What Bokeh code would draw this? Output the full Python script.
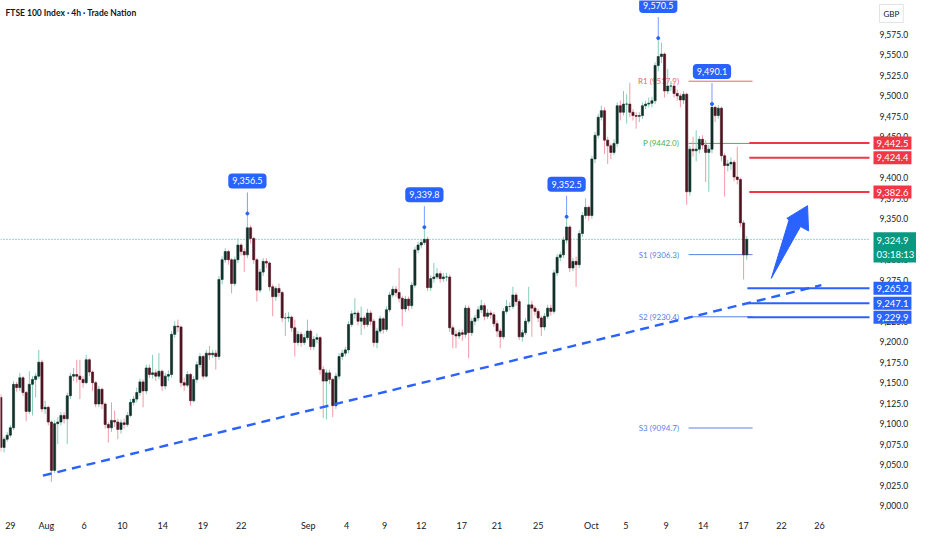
import numpy as np
from bokeh.plotting import figure
from bokeh.models import (ColumnDataSource, FixedTicker, CustomJSTickFormatter, Label, Range1d)
from bokeh.embed import file_html
from bokeh.resources import INLINE
from bokeh.core.properties import value

# ---------------- data ----------------
title_text = "FTSE 100 Index · 4h · Trade Nation"
currency = "GBP"

bar_start = -3          # first bar index (4 bars per trading day, day 0 = Jul 29)
bars_per_day = 4
first_open = 9132.0

closes = [9071, 9081, 9086, 9095, 9148, 9144, 9156, 9138, 9115, 9148, 9154, 9158, 9175, 9118, 9120, 9102,
          9043, 9100, 9102, 9110, 9106, 9134, 9158, 9160, 9158, 9154, 9150, 9178, 9163, 9150, 9124, 9142,
          9124, 9099, 9095, 9104, 9102, 9093, 9101, 9099, 9110, 9126, 9130, 9138, 9151, 9140, 9168, 9160,
          9162, 9158, 9164, 9146, 9158, 9160, 9209, 9219, 9218, 9150, 9147, 9160, 9128, 9154, 9172, 9182,
          9158, 9186, 9184, 9186, 9182, 9276, 9300, 9310, 9300, 9271, 9300, 9318, 9310, 9306, 9339, 9326,
          9300, 9263, 9285, 9298, 9296, 9267, 9255, 9265, 9260, 9229, 9229, 9230, 9217, 9199, 9209, 9199,
          9205, 9213, 9194, 9203, 9205, 9166, 9152, 9162, 9154, 9122, 9158, 9182, 9186, 9190, 9221, 9234,
          9235, 9225, 9229, 9221, 9235, 9225, 9199, 9213, 9228, 9215, 9239, 9257, 9264, 9260, 9253, 9240,
          9252, 9244, 9269, 9312, 9318, 9321, 9325, 9266, 9277, 9279, 9283, 9277, 9279, 9279, 9217, 9209,
          9207, 9211, 9209, 9241, 9211, 9225, 9229, 9239, 9244, 9231, 9235, 9233, 9222, 9213, 9206, 9237,
          9243, 9243, 9257, 9249, 9206, 9211, 9225, 9245, 9241, 9237, 9229, 9218, 9231, 9241, 9237, 9284,
          9303, 9306, 9324, 9340, 9290, 9298, 9294, 9332, 9354, 9364, 9354, 9423, 9452, 9474, 9482, 9446,
          9439, 9431, 9442, 9488, 9480, 9490, 9490, 9480, 9476, 9475, 9476, 9488, 9490, 9491, 9494, 9537,
          9548, 9551, 9506, 9512, 9512, 9503, 9500, 9495, 9502, 9383, 9435, 9433, 9435, 9447, 9440, 9431,
          9435, 9486, 9476, 9485, 9427, 9415, 9417, 9419, 9401, 9398, 9345, 9306, 9324.9]

highs = [9136, 9084, 9090, 9098, 9152, 9151, 9162, 9158, 9140, 9164, 9158, 9162, 9190, 9178, 9128, 9122,
         9104, 9104, 9108, 9114, 9114, 9138, 9162, 9168, 9178, 9178, 9158, 9184, 9180, 9165, 9152, 9146,
         9144, 9126, 9102, 9126, 9116, 9106, 9105, 9106, 9114, 9130, 9134, 9144, 9155, 9154, 9172, 9172,
         9184, 9166, 9186, 9166, 9162, 9165, 9213, 9225, 9227, 9220, 9156, 9164, 9162, 9158, 9176, 9186,
         9184, 9190, 9195, 9190, 9190, 9280, 9304, 9314, 9312, 9302, 9304, 9326, 9320, 9314, 9356.5, 9342,
         9328, 9302, 9289, 9302, 9302, 9298, 9270, 9268, 9271, 9262, 9235, 9236, 9232, 9227, 9213, 9212,
         9210, 9227, 9215, 9207, 9210, 9207, 9170, 9166, 9166, 9156, 9162, 9186, 9190, 9194, 9225, 9238,
         9253, 9238, 9243, 9232, 9240, 9238, 9228, 9217, 9232, 9230, 9243, 9261, 9268, 9268, 9290, 9256,
         9256, 9255, 9273, 9316, 9322, 9325, 9339.8, 9328, 9281, 9296, 9290, 9286, 9284, 9284, 9282, 9220,
         9214, 9215, 9215, 9245, 9244, 9229, 9233, 9243, 9251, 9247, 9240, 9238, 9236, 9226, 9216, 9241,
         9251, 9248, 9267, 9260, 9252, 9215, 9229, 9267, 9250, 9244, 9240, 9232, 9235, 9245, 9245, 9288,
         9307, 9310, 9328, 9352.5, 9342, 9302, 9304, 9336, 9358, 9375, 9366, 9427, 9456, 9478, 9488, 9486,
         9450, 9442, 9447, 9492, 9494, 9506, 9502, 9516, 9484, 9480, 9480, 9492, 9494, 9498, 9499, 9541,
         9570.5, 9565, 9553, 9533, 9518, 9515, 9508, 9503, 9506, 9504, 9439, 9450, 9458, 9451, 9452, 9446,
         9440, 9490.1, 9488, 9489, 9487, 9430, 9422, 9425, 9422, 9438, 9400, 9348, 9329]

lows = [9066, 9065, 9078, 9083, 9092, 9139, 9140, 9134, 9103, 9112, 9110, 9132, 9155, 9114, 9112, 9098,
        9029, 9040, 9075, 9098, 9100, 9075, 9130, 9152, 9150, 9130, 9144, 9148, 9158, 9140, 9120, 9120,
        9118, 9094, 9077, 9090, 9096, 9081, 9088, 9094, 9096, 9108, 9122, 9126, 9134, 9120, 9136, 9156,
        9155, 9152, 9154, 9140, 9142, 9152, 9156, 9205, 9212, 9145, 9140, 9144, 9122, 9126, 9150, 9168,
        9154, 9156, 9178, 9180, 9166, 9178, 9270, 9296, 9294, 9259, 9268, 9296, 9305, 9285, 9302, 9320,
        9295, 9249, 9260, 9280, 9290, 9262, 9231, 9250, 9255, 9224, 9207, 9224, 9212, 9182, 9195, 9194,
        9196, 9202, 9190, 9190, 9198, 9160, 9107, 9105, 9148, 9108, 9118, 9154, 9178, 9182, 9186, 9218,
        9228, 9220, 9208, 9216, 9218, 9220, 9194, 9192, 9210, 9210, 9212, 9236, 9254, 9255, 9248, 9219,
        9236, 9238, 9240, 9266, 9308, 9314, 9318, 9262, 9262, 9272, 9276, 9272, 9273, 9274, 9212, 9192,
        9192, 9203, 9201, 9205, 9180, 9207, 9220, 9225, 9235, 9226, 9228, 9228, 9218, 9206, 9192, 9203,
        9234, 9238, 9240, 9244, 9202, 9200, 9208, 9222, 9206, 9232, 9224, 9207, 9214, 9228, 9232, 9234,
        9280, 9298, 9302, 9320, 9285, 9286, 9267, 9290, 9328, 9350, 9348, 9350, 9418, 9448, 9470, 9429,
        9417, 9423, 9428, 9438, 9470, 9476, 9466, 9474, 9470, 9460, 9468, 9472, 9484, 9486, 9486, 9490,
        9530, 9540, 9498, 9502, 9506, 9498, 9494, 9486, 9490, 9367, 9378, 9426, 9420, 9430, 9435, 9395,
        9383, 9430, 9468, 9472, 9420, 9377, 9408, 9410, 9396, 9392, 9340, 9276, 9300]

tick_labels = ["29", "Aug", "6", "10", "14", "19", "22", "Sep", "4", "9", "12", "17", "21", "25",
               "Oct", "5", "9", "14", "17", "22", "26"]
tick_days = [0.0, 2.85, 5.83, 8.86, 12.05, 15.24, 18.27, 23.56, 26.6, 29.6, 32.5, 35.7, 38.5, 41.76,
             45.96, 48.68, 51.87, 54.8, 58.0, 61.0, 64.0]
price_ticks = [9000, 9025, 9050, 9075, 9100, 9125, 9150, 9175, 9200, 9225, 9250, 9275, 9300, 9325,
               9350, 9375, 9400, 9425, 9450, 9475, 9500, 9525, 9550, 9575]

swing_bars = [75, 131, 176, 205, 222]
swing_highs = [9356.5, 9339.8, 9352.5, 9570.5, 9490.1]

pivot_names = ["R1", "P", "S1", "S2", "S3"]
pivot_values = [9517.9, 9442.0, 9306.3, 9230.4, 9094.7]
pivot_span = [53.65, 58.71]

resistance_levels = [9442.5, 9424.4, 9382.6]
support_levels = [9265.2, 9247.1, 9229.9]
level_start = 58.45
last_price = 9324.9
countdown = "03:18:13"

trend_days = [2.57, 64.15]
trend_prices = [9036.6, 9269.0]

arrow_days = [60.19, 62.50, 63.14, 63.06, 61.42, 61.60]
arrow_prices = [9277.3, 9340.5, 9335.2, 9366.0, 9350.5, 9348.8]

# ---------------- figure ----------------
W, H = 916, 534
SCALE_W = 47                      # width of the price scale strip
BB = 22
X0, X1 = -0.78, 67.96             # chart pane (left of the price scale)
XR = X0 + (X1 - X0) * W / (W - SCALE_W)
Y0, Y1 = 8991.6, 9616.4
ppx = (Y1 - Y0) / (H - BB)

FONT = "Lato"
TXT = "#131722"
BLUE = "#2962ff"
RED = "#f23645"
GREEN = "#089981"

p = figure(width=W, height=H, x_range=Range1d(X0, XR), y_range=Range1d(Y0, Y1),
           output_backend="svg", toolbar_location=None, y_axis_location=None,
           min_border_left=0, min_border_top=0, min_border_right=0, min_border_bottom=BB)
p.background_fill_color = "white"
p.border_fill_color = "white"
p.outline_line_color = None
p.xgrid.visible = False
p.ygrid.visible = False

xa = p.xaxis[0]
xa.ticker = FixedTicker(ticks=tick_days)
xa.formatter = CustomJSTickFormatter(args=dict(pos=tick_days, labs=tick_labels), code="""
    let b = 0, d = 1e9;
    for (let i = 0; i < pos.length; i++) { const e = Math.abs(pos[i] - tick); if (e < d) { d = e; b = i; } }
    return labs[b];
""")
xa.axis_line_color = None
xa.major_tick_line_color = None
xa.minor_tick_line_color = None
xa.major_tick_out = 0
xa.major_label_standoff = 7
xa.major_label_text_font = FONT
xa.major_label_text_font_size = "9px"
xa.major_label_text_color = TXT

# price scale labels (drawn as text in the right strip)
p.text(x=[X1] * len(price_ticks), y=price_ticks, x_offset=10,
       text=["{:,.1f}".format(t) for t in price_ticks], text_align="left", text_baseline="middle",
       text_color=TXT, text_font=value(FONT), text_font_size="8.5px")

# current price dotted line (under candles)
p.segment(x0=[X0], y0=[last_price], x1=[X1], y1=[last_price], line_color=GREEN,
          line_width=1, line_dash="1 2", line_alpha=0.8)

# pivot lines + labels (under candles)
pv_colors = ["#f0616d", "#4caf50", "#5b7fe6", "#5b7fe6", "#5b7fe6"]
p.segment(x0=[pivot_span[0]] * 5, x1=[pivot_span[1]] * 5, y0=pivot_values, y1=pivot_values,
          line_color=pv_colors, line_width=1)
pv_text = ["%s (%.1f)" % (n, v) for n, v in zip(pivot_names, pivot_values)]
p.text(x=[pivot_span[0] - 0.75] * 5, y=pivot_values, text=pv_text, text_color=pv_colors,
       text_align="right", text_baseline="middle", text_font=value(FONT), text_font_size="8px")

# candles
n = len(closes)
xs = (np.arange(n) + bar_start) / bars_per_day
c = np.array(closes, dtype=float)
o = np.concatenate([[first_open], c[:-1]])
h = np.maximum(np.array(highs, dtype=float), np.maximum(o, c))
l = np.minimum(np.array(lows, dtype=float), np.minimum(o, c))
up = c >= o
src = ColumnDataSource(dict(
    x=xs, o=o, c=c, h=h, l=l,
    top=np.maximum(o, c), bot=np.minimum(o, c),
    body=np.where(up, "#10302a", "#4e1422"),
    wick=np.where(up, "#86cdb9", "#f39aa6"),
))
p.segment(x0="x", y0="l", x1="x", y1="h", line_color="wick", line_width=1, source=src)
p.vbar(x="x", width=0.17, top="top", bottom="bot", fill_color="body", line_color="body",
       line_width=0.6, source=src)

# trendline
p.line(trend_days, trend_prices, line_color=BLUE, line_width=2.4, line_dash="9 6")

# key level lines
for lv in resistance_levels:
    p.segment(x0=[level_start], x1=[X1], y0=[lv], y1=[lv], line_color=RED, line_width=2)
for lv in support_levels:
    p.segment(x0=[level_start - 0.15], x1=[X1], y0=[lv], y1=[lv], line_color=BLUE, line_width=2)

# arrow
p.patch(arrow_days, arrow_prices, fill_color=BLUE, line_color=BLUE, line_width=1,
        line_join="miter")

# swing high callouts
sx = [b / bars_per_day for b in swing_bars]
p.segment(x0=sx, x1=sx, y0=swing_highs, y1=[v + 21 * ppx for v in swing_highs],
          line_color="#7b9cff", line_width=1)
p.scatter(sx, swing_highs, size=3, color=BLUE)
for xv, hv in zip(sx, swing_highs):
    p.add_layout(Label(x=xv, y=hv, y_offset=25, text="{:,.1f}".format(hv), text_align="center",
                       text_baseline="bottom", text_color="white", text_font=FONT,
                       text_font_size="9px", background_fill_color=BLUE, padding=4,
                       border_radius=4))

# price-scale tags
def tag(level, color, text, yoff=0, baseline="middle"):
    p.add_layout(Label(x=X1, x_offset=4, y=level, y_offset=yoff, text=text, text_align="left",
                       text_baseline=baseline, text_color="white", text_font=FONT,
                       text_font_size="9.5px", background_fill_color=color, padding=3))

for lv in resistance_levels:
    tag(lv, RED, "{:,.1f}".format(lv))
for lv in support_levels:
    tag(lv, BLUE, "{:,.1f}".format(lv))
tag(last_price, GREEN, "{:,.1f}\n{}".format(last_price, countdown), yoff=7, baseline="top")

# title and currency
p.add_layout(Label(x=X0, x_offset=5, y=Y1, y_offset=-12, text=title_text, text_align="left",
                   text_baseline="middle", text_color=TXT, text_font=FONT,
                   text_font_size="8.5px", text_font_style="bold"))
p.add_layout(Label(x=X1, x_offset=10, y=Y1, y_offset=-13, text=currency, text_align="left",
                   text_baseline="middle", text_color=TXT, text_font=FONT,
                   text_font_size="8px", border_line_color="#e0e3eb", padding=4))

open("out.html", "w").write(file_html(p, INLINE))
